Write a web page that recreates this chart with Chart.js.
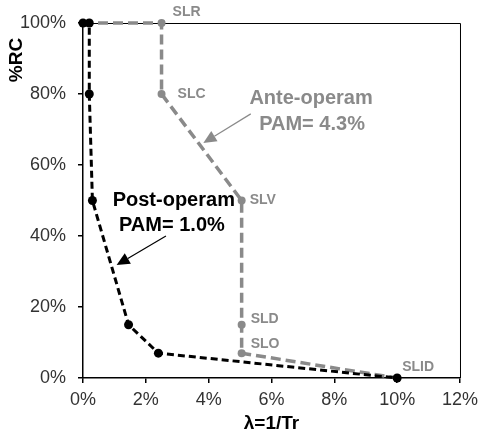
<!DOCTYPE html>
<html>
<head>
<meta charset="utf-8">
<script src="https://cdn.jsdelivr.net/npm/chart.js@4/dist/chart.umd.min.js"></script>
<style>
  html, body { margin: 0; padding: 0; background: #fff; }
  #wrap { width: 484px; height: 434px; }
</style>
</head>
<body>
<div id="wrap"><canvas id="c"></canvas></div>
<script>
// post-operam (black)
var postX = [0, 0.2, 0.2, 0.3, 1.45, 2.4, 10];
var postY = [100, 100, 80, 50, 15, 7, 0];
// ante-operam (grey)
var anteX = [0, 2.5, 2.5, 5.05, 5.05, 5.05, 10];
var anteY = [100, 100, 80, 50, 15, 7, 0];
var anteLabels = ["", "SLR", "SLC", "SLV", "SLD", "SLO", "SLID"];
var xTicks = [0, 2, 4, 6, 8, 10, 12];
var yTicks = [0, 20, 40, 60, 80, 100];

var GREY = "#8a8a8a";
var BOLD = "'Liberation Sans', Arial, sans-serif";

function pts(xs, ys) {
  return xs.map(function (x, i) { return { x: x, y: ys[i] }; });
}

// label offsets (px) from each grey point
var labelOff = [[0, 0], [11, -11], [16, 0], [8, 0], [9, -6], [9, -9], [5, -11]];

var extras = {
  id: "extras",
  beforeDatasetsDraw: function (chart) {
    var ctx = chart.ctx, a = chart.chartArea;
    // frame top/right
    ctx.save();
    ctx.strokeStyle = "#000";
    ctx.lineWidth = 1;
    ctx.beginPath();
    ctx.moveTo(a.left, a.top + 0.5);
    ctx.lineTo(a.right + 0.5, a.top + 0.5);
    ctx.lineTo(a.right + 0.5, a.bottom);
    ctx.stroke();
    ctx.restore();
  },
  afterDatasetsDraw: function (chart) {
    var ctx = chart.ctx;
    var sx = chart.scales.x, sy = chart.scales.y;
    ctx.save();

    // point labels
    var meta = chart.getDatasetMeta(0);
    ctx.font = "bold 14px " + BOLD;
    ctx.fillStyle = GREY;
    ctx.textAlign = "left";
    ctx.textBaseline = "middle";
    meta.data.forEach(function (p, i) {
      if (!anteLabels[i]) return;
      ctx.fillText(anteLabels[i], p.x + labelOff[i][0], p.y + labelOff[i][1]);
    });

    function arrow(x1, y1, x2, y2, col) {
      var X1 = sx.getPixelForValue(x1), Y1 = sy.getPixelForValue(y1);
      var X2 = sx.getPixelForValue(x2), Y2 = sy.getPixelForValue(y2);
      var ang = Math.atan2(Y2 - Y1, X2 - X1);
      var L = 13, W = 6;
      ctx.strokeStyle = col;
      ctx.fillStyle = col;
      ctx.lineWidth = 1.2;
      ctx.beginPath();
      ctx.moveTo(X1, Y1);
      ctx.lineTo(X2 - Math.cos(ang) * L, Y2 - Math.sin(ang) * L);
      ctx.stroke();
      ctx.beginPath();
      ctx.moveTo(X2, Y2);
      ctx.lineTo(X2 - Math.cos(ang) * L - Math.sin(ang) * W, Y2 - Math.sin(ang) * L + Math.cos(ang) * W);
      ctx.lineTo(X2 - Math.cos(ang) * L + Math.sin(ang) * W, Y2 - Math.sin(ang) * L - Math.cos(ang) * W);
      ctx.closePath();
      ctx.fill();
    }
    function text(t, x, y, col) {
      ctx.font = "bold 20px " + BOLD;
      ctx.fillStyle = col;
      ctx.textAlign = "center";
      ctx.textBaseline = "middle";
      ctx.fillText(t, sx.getPixelForValue(x), sy.getPixelForValue(y));
    }
    text("Ante-operam", 7.26, 78.6, GREY);
    text("PAM= 4.3%", 7.29, 71.3, GREY);
    arrow(5.34, 74.4, 3.83, 66.2, GREY);
    text("Post-operam", 2.89, 50.1, "#000");
    text("PAM= 1.0%", 2.83, 43.1, "#000");
    arrow(2.64, 40.0, 1.07, 31.8, "#000");

    // y axis title
    ctx.font = "bold 19px " + BOLD;
    ctx.fillStyle = "#000";
    ctx.translate(17, 60);
    ctx.rotate(-Math.PI / 2);
    ctx.textAlign = "center";
    ctx.textBaseline = "middle";
    ctx.fillText("%RC", 0, 0);
    ctx.restore();
  }
};

new Chart("c", {
  type: "scatter",
  data: {
    datasets: [{
      label: "Ante-operam",
      data: pts(anteX, anteY),
      showLine: true,
      clip: false,
      borderColor: GREY,
      backgroundColor: GREY,
      borderWidth: 3.5,
      borderDash: [10, 5],
      pointRadius: [0, 4, 4, 4, 4, 4, 4],
      pointBorderWidth: 0,
      order: 2
    }, {
      label: "Post-operam",
      data: pts(postX, postY),
      showLine: true,
      clip: false,
      borderColor: "#000",
      backgroundColor: "#000",
      borderWidth: 3,
      borderDash: [7, 4],
      pointRadius: 4.5,
      pointBorderWidth: 0,
      order: 1
    }]
  },
  options: {
    responsive: true,
    maintainAspectRatio: false,
    animation: false,
    layout: { padding: { top: 23, right: 19, left: 0, bottom: 0 } },
    plugins: { legend: { display: false }, tooltip: { enabled: false } },
    scales: {
      x: {
        type: "linear",
        min: 0, max: 12,
        afterBuildTicks: function (s) { s.ticks = xTicks.map(function (v) { return { value: v }; }); },
        afterFit: function (s) { s.height = 56; },
        grid: { drawOnChartArea: false, drawTicks: true, tickLength: 5, color: "#000", lineWidth: 1.5 },
        border: { color: "#000", width: 1.5 },
        ticks: {
          padding: 6,
          color: "#333",
          font: { family: "'Liberation Sans', Arial, sans-serif", size: 18 },
          callback: function (v) { return v + "%"; }
        },
        title: {
          display: true,
          text: "λ=1/Tr",
          color: "#000",
          font: { family: BOLD, size: 19, weight: "bold", lineHeight: 1.1 },
          padding: { top: 0, bottom: 0 }
        }
      },
      y: {
        type: "linear",
        min: 0, max: 100,
        afterBuildTicks: function (s) { s.ticks = yTicks.map(function (v) { return { value: v }; }); },
        afterFit: function (s) { s.width = 83; },
        grid: { drawOnChartArea: false, drawTicks: true, tickLength: 5, color: "#000", lineWidth: 1.5 },
        border: { color: "#000", width: 1.5 },
        ticks: {
          padding: 12,
          color: "#333",
          font: { family: "'Liberation Sans', Arial, sans-serif", size: 18 },
          callback: function (v) { return v + "%"; }
        }
      }
    }
  },
  plugins: [extras]
});
</script>
</body>
</html>
